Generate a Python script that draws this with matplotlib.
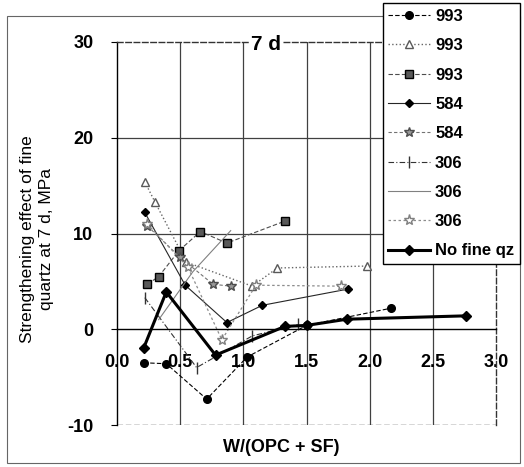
import numpy as np
import matplotlib
matplotlib.use("Agg")
import matplotlib.pyplot as plt
from matplotlib.patches import Rectangle

plt.rcParams['font.family'] = ['Liberation Sans', 'DejaVu Sans']
plt.rcParams['axes.unicode_minus'] = False

# series: W/(OPC+SF) and strengthening effect (MPa)
x_993_circ = [0.21, 0.39, 0.71, 1.03, 1.50, 2.17]
y_993_circ = [-3.5, -3.6, -7.3, -2.9, 0.4, 2.2]

x_993_tri = [0.22, 0.30, 0.55, 1.07, 1.27, 1.98]
y_993_tri = [15.4, 13.3, 7.0, 4.5, 6.4, 6.6]

x_993_sq = [0.24, 0.33, 0.49, 0.66, 0.87, 1.33]
y_993_sq = [4.7, 5.5, 8.2, 10.2, 9.0, 11.3]

x_584_dia = [0.22, 0.54, 0.87, 1.15, 1.83]
y_584_dia = [12.2, 4.6, 0.7, 2.5, 4.2]

x_584_tri = [0.24, 0.50, 0.76, 0.90]
y_584_tri = [10.8, 7.5, 4.7, 4.5]

x_306_plus = [0.22, 0.63, 1.07, 1.43]
y_306_plus = [3.3, -4.0, -0.7, 0.5]

x_306_line = [0.33, 0.60, 0.90]
y_306_line = [1.0, 6.0, 10.3]

x_306_star = [0.24, 0.56, 0.83, 1.10, 1.77]
y_306_star = [11.0, 6.5, -1.1, 4.6, 4.5]

x_noqz = [0.21, 0.39, 0.78, 1.33, 1.50, 1.82, 2.76]
y_noqz = [-2.0, 3.9, -2.7, 0.3, 0.4, 1.05, 1.4]

W, H = 524, 467
fig = plt.figure(figsize=(W / 100, H / 100), dpi=100)
ax = fig.add_axes([117 / W, 1 - 425 / H, (496 - 117) / W, (425 - 42) / H])

# inner grid
for v in [0.5, 1.0, 1.5, 2.0, 2.5]:
    ax.axvline(v, color='0.25', lw=0.9, zorder=0)
for h in [10, 20]:
    ax.axhline(h, color='0.25', lw=0.9, zorder=0)
ax.axhline(-10, color='0.2', lw=1.0, ls=(0, (4, 2)), zorder=0)

ax.plot(x_993_circ, y_993_circ, ls=(0, (4, 2)), color='k', lw=0.8,
        marker='o', ms=5.5, mfc='k', mec='k', label='993')
ax.plot(x_993_tri, y_993_tri, ls=':', color='0.4', lw=1.0,
        marker='^', ms=5.5, mfc='white', mec='0.35', label='993')
ax.plot(x_993_sq, y_993_sq, ls=(0, (4, 2)), color='0.3', lw=0.8,
        marker='s', ms=5.5, mfc='0.35', mec='k', label='993')
ax.plot(x_584_dia, y_584_dia, ls='-', color='0.15', lw=0.8,
        marker='D', ms=4.5, mfc='k', mec='k', label='584')
ax.plot(x_584_tri, y_584_tri, ls=(0, (3, 2)), color='0.45', lw=0.8,
        marker='*', ms=7, mfc='0.6', mec='0.3', label='584')
ax.plot(x_306_plus, y_306_plus, ls=(0, (5, 2, 1, 2)), color='0.2', lw=0.8,
        marker='|', ms=9, mec='0.2', label='306')
ax.plot(x_306_line, y_306_line, ls='-', color='0.5', lw=0.8, label='306')
ax.plot(x_306_star, y_306_star, ls=(0, (2, 2)), color='0.55', lw=0.9,
        marker='*', ms=8, mfc='white', mec='0.5', label='306')
ax.plot(x_noqz, y_noqz, ls='-', color='k', lw=2.2,
        marker='D', ms=5.5, mfc='k', mec='k', label='No fine qz')

ax.set_xlim(0, 3)
ax.set_ylim(-10, 30)
ax.set_xticks(np.arange(0, 3.01, 0.5))
ax.set_xticklabels(['0.0', '0.5', '1.0', '1.5', '2.0', '2.5', '3.0'])
ax.set_yticks([-10, 0, 10, 20, 30])
ax.spines['bottom'].set_position(('data', 0))
ax.spines['bottom'].set_linewidth(1.0)
ax.spines['left'].set_linewidth(1.0)
for s in ['top', 'right']:
    ax.spines[s].set_linestyle((0, (4, 2)))
    ax.spines[s].set_linewidth(1.0)
    ax.spines[s].set_color('0.2')
ax.tick_params(axis='x', length=0, pad=18, labelsize=13)
ax.tick_params(axis='y', length=4, direction='out', labelsize=13, pad=13)
for t in ax.get_xticklabels() + ax.get_yticklabels():
    t.set_fontweight('bold')

ax.text(1.18, 29.7, '7 d', fontsize=15, fontweight='bold', ha='center',
        va='center', bbox=dict(facecolor='white', edgecolor='none', pad=1.5),
        zorder=5)

fig.text(37 / W, 1 - 239 / H, 'Strengthening effect of fine\nquartz at 7 d, MPa',
         rotation=90, ha='center', va='center', fontsize=12.5, linespacing=1.4)
fig.text(281 / W, 1 - 447 / H, 'W/(OPC + SF)', ha='center', va='center',
         fontsize=13, fontweight='bold')

# outer chart border
fig.patches.append(Rectangle((7 / W, 1 - 463 / H), 513 / W, 447 / H,
                             transform=fig.transFigure, fill=False,
                             edgecolor='0.4', lw=0.8, zorder=0))

leg = fig.legend(loc='upper right', bbox_to_anchor=(520 / W, 1 - 3 / H),
                 bbox_transform=fig.transFigure, borderaxespad=0,
                 fontsize=12, labelspacing=0.86, handlelength=2.5,
                 handletextpad=0.3, borderpad=0.35, fancybox=False,
                 framealpha=1, edgecolor='k')
leg.get_frame().set_linewidth(1.0)
for t in leg.get_texts():
    t.set_fontweight('bold')

fig.savefig('out.png', dpi=100)
